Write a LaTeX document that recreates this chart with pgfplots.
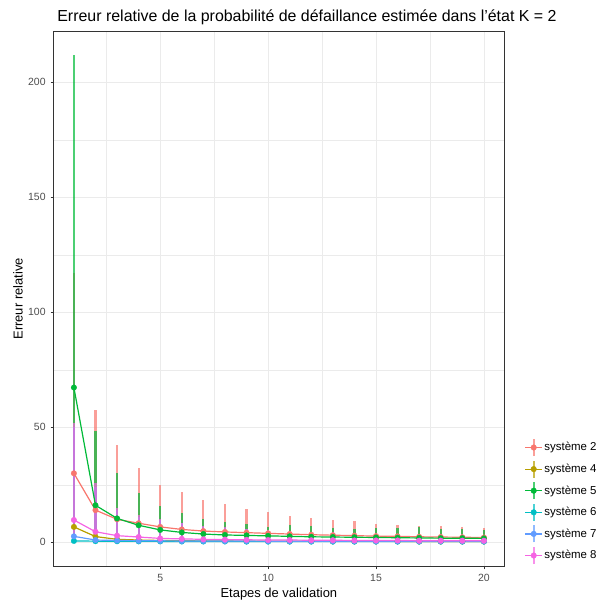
\documentclass[border=0pt]{standalone}
\usepackage{pgfplots}
\usepackage{pgfplotstable}
\pgfplotsset{compat=1.18}
\usepackage{fontspec}
\setmainfont{Liberation Sans}
\definecolor{cA}{HTML}{F8766D}
\definecolor{cB}{HTML}{B79F00}
\definecolor{cC}{HTML}{00BA38}
\definecolor{cD}{HTML}{00BFC4}
\definecolor{cE}{HTML}{619CFF}
\definecolor{cF}{HTML}{F564E3}
\definecolor{gridc}{HTML}{EBEBEB}
\definecolor{grayA}{HTML}{333333}
\definecolor{grayB}{HTML}{4D4D4D}

% x  y(mean)  lo  hi
\pgfplotstableread{
x y lo hi
1 30.0 0 117.0
2 14.0 0 57.4
3 10.0 0 42.2
4 8.3 0 32.4
5 6.7 0 24.8
6 5.6 0 22.0
7 4.9 0 18.3
8 4.5 0 16.8
9 4.2 0 14.6
10 3.9 0 13.2
11 3.6 0 11.4
12 3.3 0 10.7
13 3.1 0 9.6
14 2.9 0 9.1
15 2.7 0 8.1
16 2.6 0 7.7
17 2.4 0 7.3
18 2.3 0 7.3
19 2.2 0 6.7
20 2.1 0 6.2
}\sysA
\pgfplotstableread{
x y lo hi
1 6.7 0 30.0
2 2.5 0 12.0
3 1.3 0 6.0
4 1.0 0 4.5
5 0.8 0 3.5
6 0.7 0 3.0
7 0.6 0 2.7
8 0.55 0 2.5
9 0.5 0 2.3
10 0.5 0 2.1
11 0.45 0 2.0
12 0.45 0 1.9
13 0.4 0 1.8
14 0.4 0 1.7
15 0.4 0 1.6
16 0.4 0 1.6
17 0.35 0 1.5
18 0.35 0 1.5
19 0.35 0 1.4
20 0.35 0 1.4
}\sysB
\pgfplotstableread{
x y lo hi
1 67.3 0 211.7
2 16.1 0 48.4
3 10.4 0 30.0
4 7.4 0 21.3
5 5.4 0 15.6
6 4.3 0 12.6
7 3.6 0 10.3
8 3.2 0 8.8
9 3.0 0 8.0
10 2.8 0 6.7
11 2.6 0 7.7
12 2.4 0 7.1
13 2.3 0 6.4
14 2.2 0 6.0
15 2.1 0 6.1
16 2.0 0 6.1
17 1.9 0 6.7
18 1.8 0 6.0
19 1.8 0 6.0
20 1.7 0 5.4
}\sysC
\pgfplotstableread{
x y lo hi
1 0.6 0 3.0
2 0.5 0 2.0
3 0.45 0 1.6
4 0.4 0 1.4
5 0.4 0 1.3
6 0.35 0 1.2
7 0.35 0 1.1
8 0.35 0 1.1
9 0.3 0 1.0
10 0.3 0 1.0
11 0.3 0 1.0
12 0.3 0 0.9
13 0.3 0 0.9
14 0.3 0 0.9
15 0.3 0 0.9
16 0.3 0 0.8
17 0.3 0 0.8
18 0.3 0 0.8
19 0.3 0 0.8
20 0.3 0 0.8
}\sysD
\pgfplotstableread{
x y lo hi
1 2.6 0 50.0
2 1.0 0 24.0
3 0.8 0 14.0
4 0.7 0 11.0
5 0.65 0 9.5
6 0.6 0 8.2
7 0.6 0 6.8
8 0.55 0 6.4
9 0.55 0 5.8
10 0.5 0 5.3
11 0.5 0 4.8
12 0.5 0 4.5
13 0.5 0 4.3
14 0.5 0 4.0
15 0.45 0 3.8
16 0.45 0 3.6
17 0.45 0 3.4
18 0.45 0 3.3
19 0.45 0 3.2
20 0.45 0 3.1
}\sysE
\pgfplotstableread{
x y lo hi
1 9.7 0 52.0
2 4.6 0 26.0
3 2.9 0 15.0
4 2.3 0 11.7
5 1.7 0 10.0
6 1.5 0 8.6
7 1.3 0 7.1
8 1.2 0 6.7
9 1.1 0 6.0
10 1.0 0 5.5
11 1.0 0 5.0
12 0.9 0 4.7
13 0.9 0 4.5
14 0.8 0 4.2
15 0.8 0 4.0
16 0.8 0 3.8
17 0.7 0 3.6
18 0.7 0 3.5
19 0.7 0 3.4
20 0.7 0 3.3
}\sysF

\pgfplotsset{
  barplot/.style={only marks, mark=none, forget plot,
    error bars/.cd, y dir=both, y explicit, error mark=none,
    error bar style={line width=2.2bp, opacity=0.7}},
  lineplot/.style={no marks, line width=1.2bp, forget plot},
  ptplot/.style={only marks, mark=*, mark size=2.8bp, mark options={line width=0.3bp}},
}

\begin{document}
\begin{tikzpicture}
\path[use as bounding box] (0,0) rectangle (600bp,602bp);
\begin{axis}[
  at={(53.4bp,35.3bp)}, anchor=south west,
  scale only axis, width=451bp, height=535.7bp,
  xmin=0.05, xmax=20.95, ymin=-10.6, ymax=222.3,
  xtick={5,10,15,20}, ytick={0,50,100,150,200},
  minor xtick={2.5,7.5,12.5,17.5}, minor ytick={25,75,125,175},
  grid=both,
  major grid style={color=gridc, line width=0.6bp},
  minor grid style={color=gridc, line width=0.35bp},
  axis line style={color=grayA, line width=0.6bp},
  tick align=outside, tick pos=left,
  major tick length=2.75bp, minor tick length=0pt,
  tick style={color=grayA, line width=0.6bp},
  ticklabel style={font=\fontsize{10.5}{12}\selectfont, color=grayB},
  yticklabel style={xshift=-1.5bp},
  xticklabel style={yshift=-1bp},
  /pgf/number format/assume math mode=true,
  title={Erreur relative de la probabilité de défaillance estimée dans l'état K = 2},
  every axis title/.style={at={(axis description cs:0,1)}, anchor=base, xshift=253.6bp, yshift=9bp, font=\fontsize{16}{18}\selectfont},
  xlabel={Etapes de validation},
  every axis x label/.style={at={(axis description cs:0.5,0)}, anchor=base, yshift=-31bp, font=\fontsize{13}{15}\selectfont},
  ylabel={Erreur relative},
  every axis y label/.style={at={(axis description cs:0,0.5)}, xshift=-35.4bp, rotate=90, anchor=center, font=\fontsize{13}{15}\selectfont},
  legend style={at={(axis description cs:1,0.1217)}, anchor=west, xshift=20bp,
    draw=none, fill=none, inner sep=0pt, row sep=2.4bp,
    font=\fontsize{11.5}{13}\selectfont,
    nodes={inner sep=0pt}},
  legend cell align=left,
  legend image code/.code={
    \draw[line width=1.2bp, mark=none] (0bp,0bp) -- (17bp,0bp);
    \draw[line width=2.2bp, opacity=0.7] (8.5bp,-8.5bp) -- (8.5bp,8.5bp);
    \fill (8.5bp,0bp) circle (2.8bp);
    \path (19bp,0bp);
  },
]
% error bars
\addplot[cA, barplot] table[x=x, y=y, y error plus expr=\thisrow{hi}-\thisrow{y}, y error minus expr=\thisrow{y}-\thisrow{lo}] {\sysA};
\addplot[cB, barplot] table[x=x, y=y, y error plus expr=\thisrow{hi}-\thisrow{y}, y error minus expr=\thisrow{y}-\thisrow{lo}] {\sysB};
\addplot[cC, barplot] table[x=x, y=y, y error plus expr=\thisrow{hi}-\thisrow{y}, y error minus expr=\thisrow{y}-\thisrow{lo}] {\sysC};
\addplot[cD, barplot] table[x=x, y=y, y error plus expr=\thisrow{hi}-\thisrow{y}, y error minus expr=\thisrow{y}-\thisrow{lo}] {\sysD};
\addplot[cE, barplot] table[x=x, y=y, y error plus expr=\thisrow{hi}-\thisrow{y}, y error minus expr=\thisrow{y}-\thisrow{lo}] {\sysE};
\addplot[cF, barplot] table[x=x, y=y, y error plus expr=\thisrow{hi}-\thisrow{y}, y error minus expr=\thisrow{y}-\thisrow{lo}] {\sysF};
% lines
\addplot[cA, lineplot] table[x=x, y=y] {\sysA};
\addplot[cB, lineplot] table[x=x, y=y] {\sysB};
\addplot[cC, lineplot] table[x=x, y=y] {\sysC};
\addplot[cD, lineplot] table[x=x, y=y] {\sysD};
\addplot[cE, lineplot] table[x=x, y=y] {\sysE};
\addplot[cF, lineplot] table[x=x, y=y] {\sysF};
% points
\addplot[cA, ptplot] table[x=x, y=y] {\sysA};
\addlegendentry{système 2}
\addplot[cB, ptplot] table[x=x, y=y] {\sysB};
\addlegendentry{système 4}
\addplot[cC, ptplot] table[x=x, y=y] {\sysC};
\addlegendentry{système 5}
\addplot[cD, ptplot] table[x=x, y=y] {\sysD};
\addlegendentry{système 6}
\addplot[cE, ptplot] table[x=x, y=y] {\sysE};
\addlegendentry{système 7}
\addplot[cF, ptplot] table[x=x, y=y] {\sysF};
\addlegendentry{système 8}
\end{axis}
\end{tikzpicture}
\end{document}
